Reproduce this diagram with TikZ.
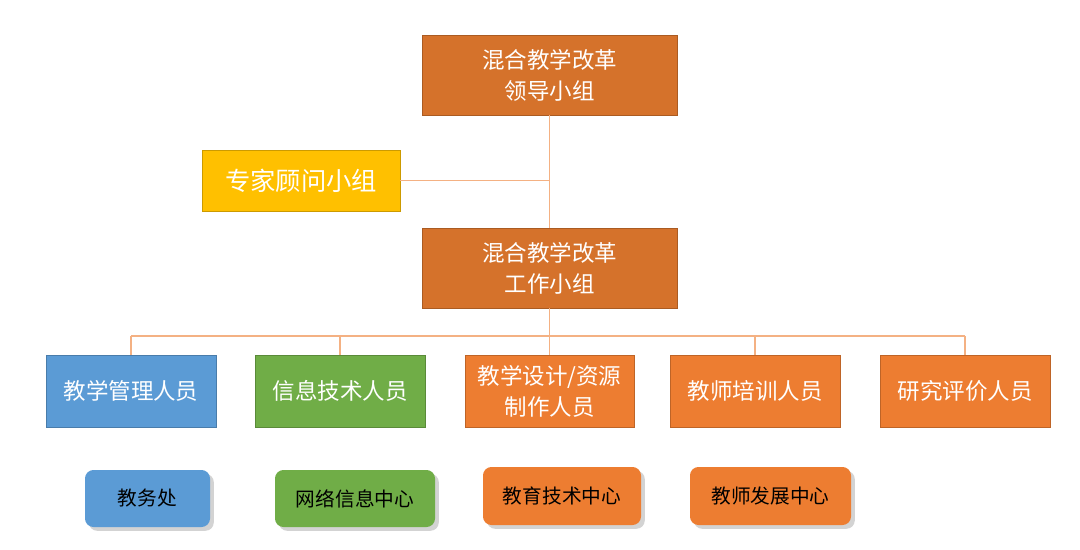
\documentclass[tikz,border=0pt]{standalone}
\usepackage{fontspec}
\setmainfont{Noto Sans CJK SC}
\usetikzlibrary{positioning,shadows}
\definecolor{lead}{HTML}{D5722B}
\definecolor{gold}{HTML}{FFC000}
\definecolor{blu}{HTML}{5B9BD5}
\definecolor{grn}{HTML}{70AD47}
\definecolor{org}{HTML}{ED7D31}
\definecolor{wire}{HTML}{F4B183}
\tikzset{
  box/.style={draw=#1!80!black,fill=#1,text=white,font=\fontsize{16}{22}\selectfont,align=center,inner sep=0pt},
  unit/.style={rounded corners=6pt,fill=#1,text=black,font=\fontsize{14}{18}\selectfont,inner sep=0pt,drop shadow={opacity=.35}},
  link/.style={wire,line width=0.8pt}
}
\begin{document}
\begin{tikzpicture}[x=0.025cm,y=-0.025cm]
\useasboundingbox (0,0) rectangle (1080,550);

\node[box=lead,minimum width=255*0.025cm,minimum height=80*0.025cm] (lead) at (549.5,75) {混合教学改革\\领导小组};
\node[box=gold,minimum width=198*0.025cm,minimum height=61*0.025cm,font=\fontsize{18}{22}\selectfont] (expert) at (301,180.5) {专家顾问小组};
\node[box=lead,minimum width=255*0.025cm,minimum height=80*0.025cm] (work) at (549.5,268) {混合教学改革\\工作小组};

\node[box=blu,minimum width=170*0.025cm,minimum height=72*0.025cm] (mgmt) at (131,391) {教学管理人员};
\node[box=grn,minimum width=170*0.025cm,minimum height=72*0.025cm] (info) at (340,391) {信息技术人员};
\node[box=org,minimum width=169*0.025cm,minimum height=72*0.025cm] (design) at (549.5,391) {教学设计/资源\\制作人员};
\node[box=org,minimum width=170*0.025cm,minimum height=72*0.025cm] (train) at (755,391) {教师培训人员};
\node[box=org,minimum width=170*0.025cm,minimum height=72*0.025cm] (eval) at (965,391) {研究评价人员};

\node[unit=blu,minimum width=125*0.025cm,minimum height=57*0.025cm] (jwc) at (147.5,498.5) {教务处};
\node[unit=grn,minimum width=160*0.025cm,minimum height=57*0.025cm] (net) at (355,498.5) {网络信息中心};
\node[unit=org,minimum width=158*0.025cm,minimum height=58*0.025cm] (edu) at (562,496) {教育技术中心};
\node[unit=org,minimum width=161*0.025cm,minimum height=58*0.025cm] (dev) at (770.5,496) {教师发展中心};

\coordinate (hub) at (lead.south |- expert.east);
\coordinate (bar) at (549.5,336);
\draw[link] (lead) -- (work);
\draw[link] (expert) -- (hub);
\draw[link] (work) -- (bar);
\foreach \n in {mgmt,info,design,train,eval}
  \draw[link] (\n.north) -- (\n.north |- bar);
\draw[link] (mgmt.north |- bar) -- (eval.north |- bar);
\end{tikzpicture}
\end{document}
